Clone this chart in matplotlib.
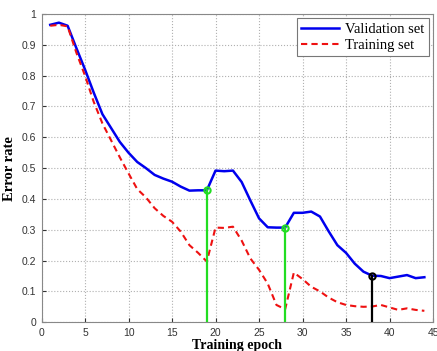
import matplotlib
matplotlib.use("Agg")
import matplotlib.pyplot as plt

epochs = list(range(1, 45))
validation = [0.965, 0.972, 0.962, 0.89, 0.82, 0.745, 0.675, 0.63, 0.585, 0.55,
              0.52, 0.50, 0.478, 0.466, 0.456, 0.44, 0.427, 0.428, 0.428, 0.492,
              0.49, 0.492, 0.455, 0.395, 0.337, 0.308, 0.307, 0.307, 0.355, 0.355,
              0.359, 0.343, 0.295, 0.25, 0.225, 0.19, 0.164, 0.151, 0.15, 0.143,
              0.148, 0.153, 0.143, 0.146]
training = [0.962, 0.965, 0.96, 0.875, 0.80, 0.715, 0.645, 0.59, 0.535, 0.483,
            0.432, 0.405, 0.37, 0.345, 0.326, 0.294, 0.25, 0.225, 0.197, 0.307,
            0.306, 0.31, 0.265, 0.207, 0.17, 0.125, 0.056, 0.042, 0.161, 0.14,
            0.115, 0.1, 0.08, 0.065, 0.056, 0.052, 0.05, 0.051, 0.056, 0.048,
            0.04, 0.045, 0.04, 0.037]

# stopping points marked with vertical stems
stop_epochs = [19, 28, 38]
stop_values = [0.428, 0.307, 0.151]
stop_colors = ['#22dd22', '#22dd22', 'black']

fig = plt.figure(figsize=(4.37, 3.51), dpi=100)
ax = fig.add_axes([0.095, 0.082, 0.896, 0.878])

ax.plot(epochs, validation, color='#0000ee', lw=1.8, label='Validation set', zorder=3)
ax.plot(epochs, training, color='#ee1111', lw=1.5, ls=(0, (3, 2)), label='Training set', zorder=3)

for e, v, c in zip(stop_epochs, stop_values, stop_colors):
    ax.plot([e, e], [0, v], color=c, lw=1.6, zorder=4)
    ax.plot([e], [v], marker='o', ms=4.5, mfc='none', mec=c, mew=1.5, zorder=5)

ax.set_xlim(0, 45)
ax.set_ylim(0, 1)
ax.set_xticks(range(0, 46, 5))
ax.set_yticks([i / 10 for i in range(11)])
ax.set_yticklabels(['0'] + ['0.%d' % i for i in range(1, 10)] + ['1'])
ax.grid(True, ls=':', color='#b0b0b0', lw=0.8)
ax.tick_params(labelsize=7.5, direction='in', length=3, pad=4, colors='#333333')
for lab in ax.get_xticklabels() + ax.get_yticklabels():
    lab.set_family('Liberation Sans')
for s in ax.spines.values():
    s.set_color('#888888')

ax.set_xlabel('Training epoch', family='Liberation Serif', weight='bold', fontsize=10, labelpad=1)
ax.set_ylabel('Error rate', family='Liberation Serif', weight='bold', fontsize=10.5, labelpad=4)

leg = ax.legend(loc='upper right', prop={'family': 'Liberation Serif', 'size': 10.5},
                fancybox=False, framealpha=1, edgecolor='#777777', handlelength=2.6,
                borderpad=0.3, labelspacing=0.2, handletextpad=0.4, borderaxespad=0.3)
leg.get_frame().set_linewidth(0.8)

fig.savefig('out.png', dpi=100)
